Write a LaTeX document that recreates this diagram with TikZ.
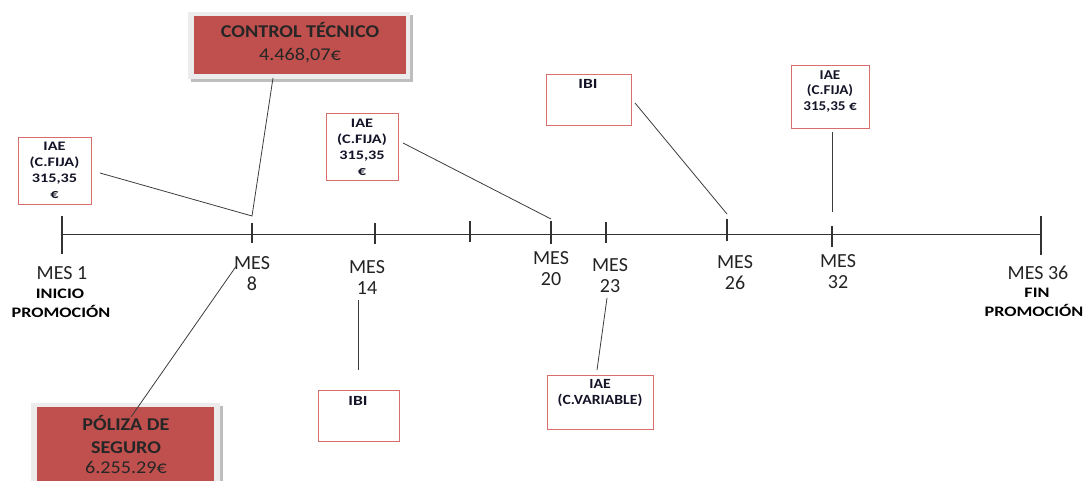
\documentclass[tikz,border=0pt]{standalone}
\usepackage{fontspec}
\setmainfont{Carlito}
\newfontfamily\widefont{Carlito}[FakeStretch=1.25]
\newfontfamily\midfont{Carlito}[FakeStretch=1.12]
\definecolor{boxred}{RGB}{192,80,77}
\definecolor{boxline}{RGB}{214,110,108}
\definecolor{framegray}{RGB}{236,236,236}
\definecolor{shadowgray}{RGB}{190,190,190}
\definecolor{linegray}{RGB}{60,60,60}
\definecolor{axiscol}{RGB}{50,50,50}
\definecolor{txt}{RGB}{35,35,35}
\definecolor{boxtxtcol}{RGB}{20,20,40}
\begin{document}
\begin{tikzpicture}[x=1pt,y=-1pt,
  smallbox/.style={draw=boxline, line width=0.9pt, fill=white, inner sep=0pt, anchor=north west},
  conn/.style={draw=linegray, line width=0.8pt},
  tickmark/.style={draw=axiscol, line width=1.1pt},
  meslbl/.style={font=\fontsize{20}{21}\selectfont, text=txt, align=center, inner sep=0pt},
  boldlbl/.style={font=\widefont\bfseries\fontsize{14.5}{18}\selectfont, text=black, inner sep=0pt, anchor=base},
  boxtxt/.style={font=\widefont\bfseries\fontsize{13}{16}\selectfont, text=boxtxtcol, align=center, inner sep=0pt},
  redtxt/.style={font=\midfont\fontsize{18}{21}\selectfont, text=black!85, inner sep=0pt, anchor=base}
]
\clip (0,0) rectangle (1087,481);
\useasboundingbox (0,0) rectangle (1087,481);

% timeline
\coordinate (tl0) at (62,235);
\coordinate (tl1) at (1041,235);
\draw[draw=axiscol, line width=1pt] (tl0) -- (tl1);
\draw[tickmark] (62,216) -- (62,254);
\draw[tickmark] (252,223) -- (252,243);
\draw[tickmark] (375,223) -- (375,244);
\draw[tickmark] (470,221) -- (470,242);
\draw[tickmark] (551,221) -- (551,244);
\draw[tickmark] (606,222) -- (606,243);
\draw[tickmark] (727,219) -- (727,241);
\draw[tickmark] (832,226) -- (832,247);
\draw[tickmark] (1041,216) -- (1041,255);

% month labels
\node[meslbl] (m1) at (62,273) {MES 1};
\node[boldlbl] (ini) at (60,298.5) {INICIO};
\node[boldlbl] (prom1) at (61,317) {PROMOCIÓN};
\node[meslbl] (m8) at (252,274) {MES\\8};
\node[meslbl] (m14) at (367,278) {MES\\14};
\node[meslbl] (m20) at (551,269) {MES\\20};
\node[meslbl] (m23) at (610,275.5) {MES\\23};
\node[meslbl] (m26) at (735,273) {MES\\26};
\node[meslbl] (m32) at (838,271.5) {MES\\32};
\node[meslbl] (m36) at (1038,273) {MES 36};
\node[boldlbl] (fin) at (1037,297.5) {FIN};
\node[boldlbl] (prom2) at (1034,316) {PROMOCIÓN};

% CONTROL TECNICO box
\fill[shadowgray] (191,15) rectangle (413,82);
\fill[framegray] (188,12) rectangle (410,79);
\node[fill=boxred, inner sep=0pt, minimum width=212pt, minimum height=58pt, anchor=north west] (ctrl) at (194,16) {};
\node[redtxt, font=\midfont\bfseries\fontsize{18}{21}\selectfont] (ctrl1) at (300,37.8) {CONTROL TÉCNICO};
\node[redtxt] (ctrl2) at (300,60.8) {4.468,07€};

% POLIZA box
\fill[shadowgray] (34,406) rectangle (223,490);
\fill[framegray] (31,403) rectangle (220,490);
\node[fill=boxred, inner sep=0pt, minimum width=177pt, minimum height=80pt, anchor=north west] (pol) at (37,407) {};
\node[redtxt, font=\midfont\bfseries\fontsize{18}{21}\selectfont] (pol1) at (126,430) {PÓLIZA DE};
\node[redtxt, font=\midfont\bfseries\fontsize{18}{21}\selectfont] (pol2) at (126,453) {SEGURO};
\node[redtxt] (pol3) at (126,473) {6.255.29€};

% small boxes
\node[smallbox, minimum width=73pt, minimum height=67pt] (iae1) at (18,137) {};
\node[boxtxt] (iae1t) at (54.5,170) {IAE\\(C.FIJA)\\315,35\\€};

\node[smallbox, minimum width=72pt, minimum height=67pt] (iae2) at (326,113) {};
\node[boxtxt] (iae2t) at (362,147) {IAE\\(C.FIJA)\\315,35\\€};

\node[smallbox, minimum width=85pt, minimum height=51pt] (ibi1) at (546,74) {};
\node[boxtxt, font=\widefont\bfseries\fontsize{14}{16}\selectfont, anchor=base] (ibi1t) at (588,88.5) {IBI};

\node[smallbox, minimum width=78pt, minimum height=63pt] (iae3) at (791,65) {};
\node[boxtxt, font=\midfont\bfseries\fontsize{13.5}{15.5}\selectfont] (iae3t) at (830,91.5) {IAE\\(C.FIJA)\\315,35 €};

\node[smallbox, minimum width=81pt, minimum height=51pt] (ibi2) at (318,390) {};
\node[boxtxt, font=\widefont\bfseries\fontsize{14}{16}\selectfont, anchor=base] (ibi2t) at (358,405.5) {IBI};

\node[smallbox, minimum width=106pt, minimum height=54pt] (iaev) at (547,375) {};
\node[boxtxt, font=\midfont\bfseries\fontsize{14}{16}\selectfont] (iaevt) at (600,393) {IAE\\(C.VARIABLE)};

% connector end points
\coordinate (c1a) at (100,173);
\coordinate (j8) at (252,216);
\coordinate (c2a) at (273,78);
\coordinate (c3a) at (237,265);
\coordinate (c3b) at (131,417);
\coordinate (c4a) at (403,143);
\coordinate (c4b) at (551,219);
\coordinate (c5a) at (635,103);
\coordinate (c5b) at (727,214);
\coordinate (c6a) at (832,132);
\coordinate (c6b) at (832,212);
\coordinate (c7a) at (358,300);
\coordinate (c7b) at (358,370);
\coordinate (c8a) at (607,298);
\coordinate (c8b) at (597,370);

\draw[conn] (c1a) -- (j8) -- (c2a);
\draw[conn] (c3a) -- (c3b);
\draw[conn] (c4a) -- (c4b);
\draw[conn] (c5a) -- (c5b);
\draw[conn] (c6a) -- (c6b);
\draw[conn] (c7a) -- (c7b);
\draw[conn] (c8a) -- (c8b);
\end{tikzpicture}
\end{document}
